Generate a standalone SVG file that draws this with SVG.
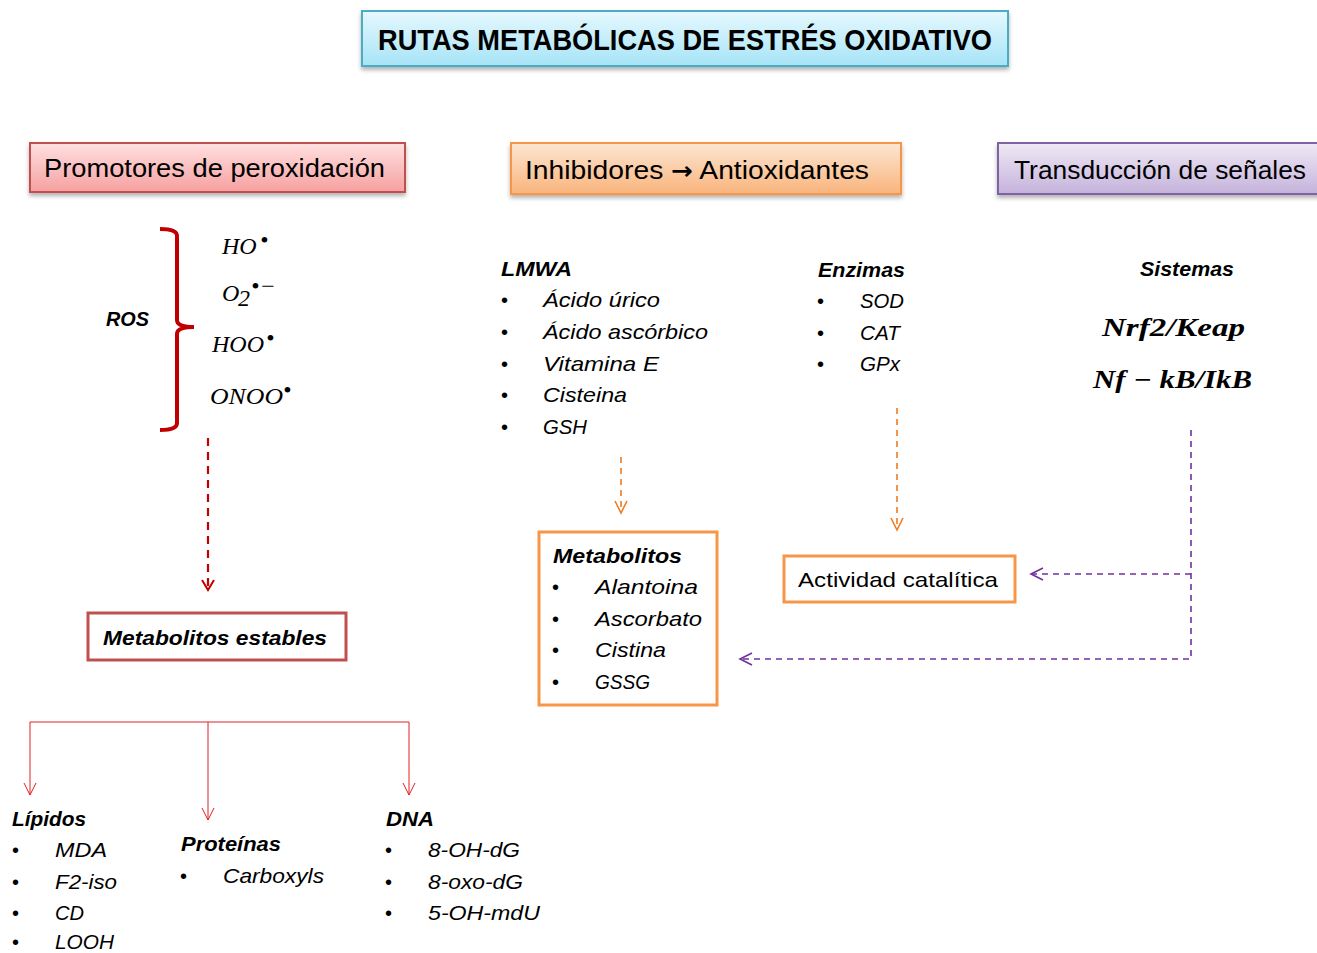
<svg xmlns="http://www.w3.org/2000/svg" width="1317" height="953" viewBox="0 0 1317 953">
<style>
.s{font-family:"Liberation Sans","Open Sans",sans-serif;fill:#000}
.bi{font-family:"Liberation Sans","Open Sans",sans-serif;font-weight:bold;font-style:italic;font-size:21px}
.it{font-family:"Liberation Sans","Open Sans",sans-serif;font-style:italic;font-size:21px}
.bul{font-family:"Liberation Sans",sans-serif;font-size:20px}
.m{font-family:"Liberation Serif","DejaVu Serif",serif;font-style:italic;font-size:24px}
.mb{font-family:"Liberation Serif","DejaVu Serif",serif;font-style:italic;font-weight:bold;font-size:25px}
.red{fill:none;stroke:#c00000;stroke-width:2.2;stroke-dasharray:8,6}
.redt{fill:none;stroke:#e02020;stroke-width:1}
.org{fill:none;stroke:#f07a20;stroke-width:1.6;stroke-dasharray:6,5}
.pur{fill:none;stroke:#7030a0;stroke-width:1.6;stroke-dasharray:6,5}
</style>
<defs>
<linearGradient id="gT" x1="0" y1="0" x2="0" y2="1"><stop offset="0" stop-color="#e6f8fe"/><stop offset="1" stop-color="#a6e4f7"/></linearGradient>
<linearGradient id="gR" x1="0" y1="0" x2="0" y2="1"><stop offset="0" stop-color="#ffe0e0"/><stop offset="1" stop-color="#f6a0a0"/></linearGradient>
<linearGradient id="gO" x1="0" y1="0" x2="0" y2="1"><stop offset="0" stop-color="#fde6d2"/><stop offset="1" stop-color="#f9b47c"/></linearGradient>
<linearGradient id="gP" x1="0" y1="0" x2="0" y2="1"><stop offset="0" stop-color="#efe9f5"/><stop offset="1" stop-color="#c5b2dc"/></linearGradient>
<filter id="sh" x="-5%" y="-20%" width="110%" height="150%"><feDropShadow dx="0" dy="3" stdDeviation="2" flood-color="#000" flood-opacity="0.3"/></filter>
</defs>

<g id="title">
<rect x="362" y="11" width="646" height="55" fill="url(#gT)" stroke="#4bacc6" stroke-width="2" filter="url(#sh)"/>
<text class="s" x="378" y="50" font-size="30" font-weight="bold" textLength="614" lengthAdjust="spacingAndGlyphs">RUTAS METABÓLICAS DE ESTRÉS OXIDATIVO</text>
</g>

<g id="promotores">
<rect x="30" y="143" width="375" height="49" fill="url(#gR)" stroke="#c0504d" stroke-width="2" filter="url(#sh)"/>
<text class="s" x="44" y="177" font-size="26" textLength="341" lengthAdjust="spacingAndGlyphs">Promotores de peroxidación</text>
</g>

<g id="inhibidores">
<rect x="511" y="143" width="390" height="51" fill="url(#gO)" stroke="#f79646" stroke-width="2" filter="url(#sh)"/>
<text class="s" x="525" y="179" font-size="26" textLength="344" lengthAdjust="spacingAndGlyphs">Inhibidores <tspan font-family="DejaVu Sans, sans-serif" font-weight="bold" font-size="24">→</tspan> Antioxidantes</text>
</g>

<g id="transduccion">
<rect x="998" y="143" width="330" height="51" fill="url(#gP)" stroke="#8064a2" stroke-width="2" filter="url(#sh)"/>
<text class="s" x="1014" y="179" font-size="26" textLength="292" lengthAdjust="spacingAndGlyphs">Transducción de señales</text>
</g>

<g id="ros">
<text class="bi" x="106" y="326" textLength="43" lengthAdjust="spacingAndGlyphs">ROS</text>
<path d="M160,229 Q177,229 177,236 L177,320 Q177,327 194,327 Q177,327 177,334 L177,423 Q177,430 160,430" fill="none" stroke="#c00000" stroke-width="4"/>
<text class="m" x="222" y="254">HO</text><text class="m" x="260" y="248" font-size="15" font-style="normal">•</text>
<text class="m" x="222" y="301">O</text><text class="m" x="238" y="306" font-size="16" font-style="normal">2</text><text class="m" x="251" y="294" font-size="15" font-style="normal">•−</text>
<text class="m" x="212" y="352">HOO</text><text class="m" x="266" y="346" font-size="15" font-style="normal">•</text>
<text class="m" x="210" y="404" textLength="73" lengthAdjust="spacingAndGlyphs">ONOO</text><text class="m" x="283" y="398" font-size="15" font-style="normal">•</text>
</g>

<g id="metabolitos-estables">
<rect x="88" y="613" width="258" height="47" fill="#fff" stroke="#c0504d" stroke-width="3"/>
<text class="bi" x="103" y="645" textLength="224" lengthAdjust="spacingAndGlyphs">Metabolitos estables</text>
</g>

<g id="lipidos">
<text class="bi" x="12" y="826" textLength="74" lengthAdjust="spacingAndGlyphs">Lípidos</text>
<text class="bul" x="12" y="857">•</text><text class="it" x="55" y="857" textLength="52" lengthAdjust="spacingAndGlyphs">MDA</text>
<text class="bul" x="12" y="889">•</text><text class="it" x="55" y="889" textLength="62" lengthAdjust="spacingAndGlyphs">F2-iso</text>
<text class="bul" x="12" y="920">•</text><text class="it" x="55" y="920" textLength="29" lengthAdjust="spacingAndGlyphs">CD</text>
<text class="bul" x="12" y="949">•</text><text class="it" x="55" y="949" textLength="59" lengthAdjust="spacingAndGlyphs">LOOH</text>
</g>

<g id="proteinas">
<text class="bi" x="181" y="851" textLength="100" lengthAdjust="spacingAndGlyphs">Proteínas</text>
<text class="bul" x="180" y="883">•</text><text class="it" x="223" y="883" textLength="101" lengthAdjust="spacingAndGlyphs">Carboxyls</text>
</g>

<g id="dna">
<text class="bi" x="386" y="826" textLength="48" lengthAdjust="spacingAndGlyphs">DNA</text>
<text class="bul" x="385" y="857">•</text><text class="it" x="428" y="857" textLength="92" lengthAdjust="spacingAndGlyphs">8-OH-dG</text>
<text class="bul" x="385" y="889">•</text><text class="it" x="428" y="889" textLength="95" lengthAdjust="spacingAndGlyphs">8-oxo-dG</text>
<text class="bul" x="385" y="920">•</text><text class="it" x="428" y="920" textLength="112" lengthAdjust="spacingAndGlyphs">5-OH-mdU</text>
</g>

<g id="lmwa">
<text class="bi" x="501" y="276" textLength="71" lengthAdjust="spacingAndGlyphs">LMWA</text>
<text class="bul" x="501" y="307">•</text><text class="it" x="543" y="307" textLength="117" lengthAdjust="spacingAndGlyphs">Ácido úrico</text>
<text class="bul" x="501" y="339">•</text><text class="it" x="543" y="339" textLength="165" lengthAdjust="spacingAndGlyphs">Ácido ascórbico</text>
<text class="bul" x="501" y="371">•</text><text class="it" x="543" y="371" textLength="116" lengthAdjust="spacingAndGlyphs">Vitamina E</text>
<text class="bul" x="501" y="402">•</text><text class="it" x="543" y="402" textLength="84" lengthAdjust="spacingAndGlyphs">Cisteina</text>
<text class="bul" x="501" y="434">•</text><text class="it" x="543" y="434" textLength="44" lengthAdjust="spacingAndGlyphs">GSH</text>
</g>

<g id="enzimas">
<text class="bi" x="818" y="277" textLength="87" lengthAdjust="spacingAndGlyphs">Enzimas</text>
<text class="bul" x="817" y="308">•</text><text class="it" x="860" y="308" textLength="44" lengthAdjust="spacingAndGlyphs">SOD</text>
<text class="bul" x="817" y="340">•</text><text class="it" x="860" y="340" textLength="40" lengthAdjust="spacingAndGlyphs">CAT</text>
<text class="bul" x="817" y="371">•</text><text class="it" x="860" y="371" textLength="40" lengthAdjust="spacingAndGlyphs">GPx</text>
</g>

<g id="sistemas">
<text class="bi" x="1140" y="276" textLength="94" lengthAdjust="spacingAndGlyphs">Sistemas</text>
<text class="mb" x="1102" y="336" textLength="143" lengthAdjust="spacingAndGlyphs">Nrf2/Keap</text>
<text class="mb" x="1093" y="388" textLength="159" lengthAdjust="spacingAndGlyphs">Nf − kB/IkB</text>
</g>

<g id="metabolitos">
<rect x="539" y="532" width="178" height="173" fill="#fff" stroke="#f79646" stroke-width="3"/>
<text class="bi" x="553" y="563" textLength="129" lengthAdjust="spacingAndGlyphs">Metabolitos</text>
<text class="bul" x="552" y="594">•</text><text class="it" x="595" y="594" textLength="103" lengthAdjust="spacingAndGlyphs">Alantoina</text>
<text class="bul" x="552" y="626">•</text><text class="it" x="595" y="626" textLength="107" lengthAdjust="spacingAndGlyphs">Ascorbato</text>
<text class="bul" x="552" y="657">•</text><text class="it" x="595" y="657" textLength="71" lengthAdjust="spacingAndGlyphs">Cistina</text>
<text class="bul" x="552" y="689">•</text><text class="it" x="595" y="689" textLength="55" lengthAdjust="spacingAndGlyphs">GSSG</text>
</g>

<g id="actividad">
<rect x="784" y="556" width="231" height="46" fill="#fff" stroke="#f79646" stroke-width="3"/>
<text class="s" x="798" y="587" font-size="21" textLength="200" lengthAdjust="spacingAndGlyphs">Actividad catalítica</text>
</g>

<g id="connectors">
<path class="red" d="M208,438 L208,590"/>
<path d="M202,580 L208,590 L214,580" fill="none" stroke="#c00000" stroke-width="2"/>
<path class="redt" d="M30,795 L30,722 L409,722 L409,795 M208,722 L208,820"/>
<path class="redt" d="M24,783 L30,795 L36,783 M202,808 L208,820 L214,808 M403,783 L409,795 L415,783"/>
<path class="org" d="M621,457 L621,512"/>
<path d="M615,501 L621,513 L627,501" fill="none" stroke="#f07a20" stroke-width="1.6"/>
<path class="org" d="M897,408 L897,529"/>
<path d="M891,518 L897,530 L903,518" fill="none" stroke="#f07a20" stroke-width="1.6"/>
<path class="pur" d="M1191,430 L1191,659 L741,659 M1191,574 L1032,574"/>
<path d="M1043,568 L1031,574 L1043,580 M752,653 L740,659 L752,665" fill="none" stroke="#7030a0" stroke-width="1.6"/>
</g>
</svg>
